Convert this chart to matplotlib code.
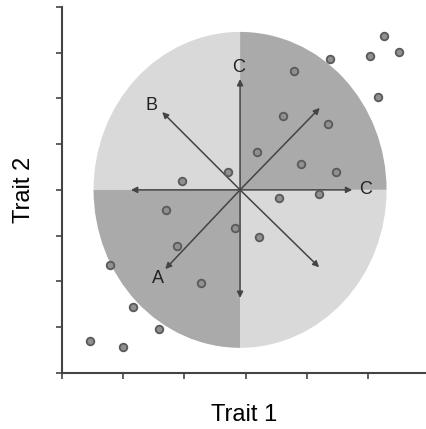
import matplotlib.pyplot as plt
from matplotlib.patches import Wedge
import matplotlib.transforms as mtransforms

# individuals (Trait 1, Trait 2), in tick units
trait1 = [5.26, 5.51, 5.03, 4.38, 3.79, 5.16, 3.61, 4.34, 3.18, 3.90, 4.48, 2.72, 1.96,
          3.54, 4.19, 1.70, 2.83, 3.22, 1.88, 0.78, 2.28, 1.17, 1.58, 0.46, 1.00]
trait2 = [7.36, 7.02, 6.92, 6.85, 6.59, 6.02, 5.62, 5.44, 4.82, 4.56, 4.40, 4.39, 4.19,
          3.82, 3.91, 3.57, 3.17, 2.98, 2.77, 2.35, 1.96, 1.45, 0.97, 0.71, 0.57]

# selection ellipse
center = (2.91, 4.00)
half_w, half_h = 2.39, 3.45

# arrow tips and their labels
arrow_tips = [(2.91, 6.42), (4.74, 4.00), (1.13, 4.00), (2.91, 1.64),
              (1.64, 5.70), (4.21, 5.79), (1.69, 2.27), (4.20, 2.31)]
labels = ['C', 'C', 'B', 'A']
label_pos = [(2.89, 6.68), (4.95, 4.00), (1.47, 5.85), (1.57, 2.07)]

dark = '#aaaaaa'
light = '#d9d9d9'

fig = plt.figure(figsize=(4.27, 4.29), dpi=100)
ax = fig.add_axes([0.1445, 0.1305, 0.8555, 0.8538])
ax.set_xlim(0, 5.96)
ax.set_ylim(0, 8.0)

# four quadrants of the ellipse: draw unit wedges and stretch them
stretch = mtransforms.Affine2D().scale(half_w, half_h).translate(*center) + ax.transData
quad_colors = [dark, light, dark, light]
for k, col in enumerate(quad_colors):
    w = Wedge((0, 0), 1.0, 90 * k, 90 * (k + 1), facecolor=col, edgecolor='none',
              transform=stretch, zorder=1)
    ax.add_patch(w)

for tx, ty in arrow_tips:
    ax.annotate('', xy=(tx, ty), xytext=center,
                arrowprops=dict(arrowstyle='-|>', color='#444444', lw=1.1,
                                mutation_scale=9, shrinkA=0, shrinkB=0),
                zorder=3)

for lab, (lx, ly) in zip(labels, label_pos):
    ax.text(lx, ly, lab, fontsize=13, family='Liberation Sans', color='#222222',
            ha='center', va='center', zorder=4)

ax.scatter(trait1, trait2, s=30, facecolor='#909090', edgecolor='#5a5a5a',
           linewidths=1.3, zorder=5)

ax.set_xticks(range(0, 6))
ax.set_yticks(range(0, 9))
ax.set_xticklabels([])
ax.set_yticklabels([])
ax.tick_params(direction='out', length=4, width=1.2, color='#444444')
for side in ['top', 'right']:
    ax.spines[side].set_visible(False)
for side in ['left', 'bottom']:
    ax.spines[side].set_color('#444444')
    ax.spines[side].set_linewidth(1.5)

ax.set_xlabel('Trait 1', fontsize=17, family='Liberation Sans', labelpad=15)
ax.set_ylabel('Trait 2', fontsize=17, family='Liberation Sans', labelpad=12)

fig.savefig('out.png', dpi=100)
